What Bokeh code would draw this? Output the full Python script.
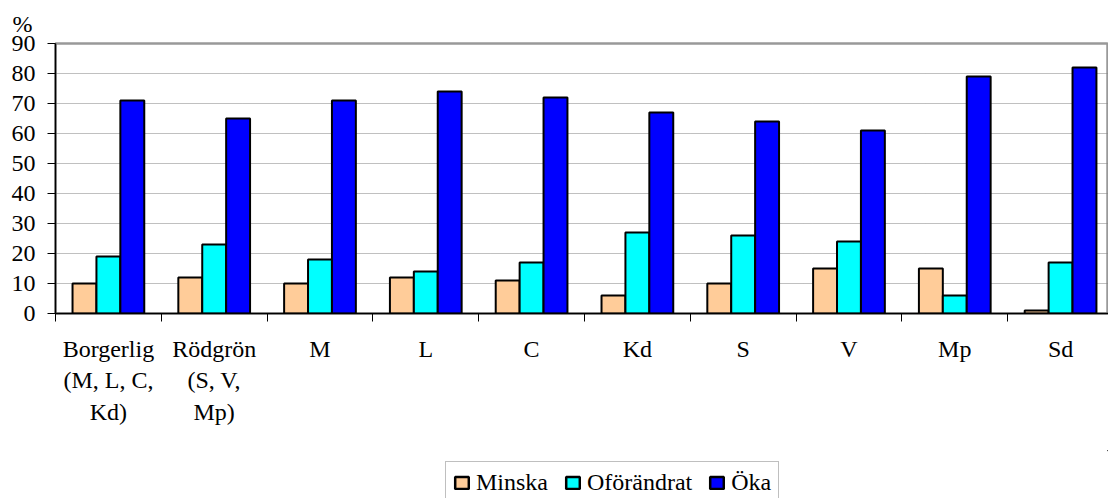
import numpy as np
from bokeh.plotting import figure
from bokeh.layouts import column
from bokeh.models import (Range1d, FixedTicker, Legend, LegendItem, Title,
                          ColumnDataSource)
from bokeh.embed import file_html
from bokeh.resources import INLINE

categories = ["Borgerlig\n(M, L, C,\nKd)", "Rödgrön\n(S, V,\nMp)", "M", "L", "C",
              "Kd", "S", "V", "Mp", "Sd"]
series_names = ["Minska", "Oförändrat", "Öka"]
minska = [10, 12, 10, 12, 11, 6, 10, 15, 15, 1]
oforandrat = [19, 23, 18, 14, 17, 27, 26, 24, 6, 17]
oka = [71, 65, 71, 74, 72, 67, 64, 61, 79, 82]
colors = ["#FFCC99", "#00FFFF", "#0000FF"]
y_ticks = list(range(0, 100, 10))

FONT = "Liberation Serif"
FS = "24px"

p = figure(width=1108, height=450, output_backend="svg", toolbar_location=None,
           x_range=Range1d(0, 9.953), y_range=Range1d(0, 90),
           min_border_left=55, min_border_right=0, min_border_top=43,
           min_border_bottom=137)

idx = np.arange(len(categories)) + 0.5
bw = 0.226
for k, (name, vals, col) in enumerate(zip(series_names, [minska, oforandrat, oka], colors)):
    src = ColumnDataSource(dict(x=idx + (k - 1) * bw, top=vals))
    p.vbar(x="x", top="top", width=bw, bottom=0, source=src,
           fill_color=col, line_color="black", line_width=2)

# x axis
p.xaxis.ticker = FixedTicker(ticks=list(idx), minor_ticks=list(range(0, 11)))
p.xaxis.major_label_overrides = {float(x): c for x, c in zip(idx, categories)}
p.xaxis.major_tick_out = 0
p.xaxis.major_tick_in = 0
p.xaxis.minor_tick_out = 8
p.xaxis.minor_tick_in = 0
p.xaxis.minor_tick_line_color = "black"
p.xaxis.axis_line_color = "black"
p.xaxis.axis_line_width = 1.5
p.xaxis.major_label_text_font = FONT
p.xaxis.major_label_text_font_size = FS
p.xaxis.major_label_text_color = "black"
p.xaxis.major_label_text_line_height = 1.22
p.xaxis.major_label_standoff = 14

# y axis
p.yaxis.ticker = FixedTicker(ticks=y_ticks)
p.yaxis.major_tick_out = 8
p.yaxis.major_tick_in = 0
p.yaxis.minor_tick_line_color = None
p.yaxis.axis_line_color = "black"
p.yaxis.axis_line_width = 1.5
p.yaxis.major_label_text_font = FONT
p.yaxis.major_label_text_font_size = FS
p.yaxis.major_label_text_color = "black"
p.yaxis.major_label_standoff = 12

p.xgrid.grid_line_color = None
p.ygrid.ticker = FixedTicker(ticks=y_ticks[1:-1])
p.ygrid.grid_line_color = "#808080"
p.ygrid.grid_line_dash = "1 1"
p.ygrid.grid_line_width = 1

p.outline_line_color = "#999999"
p.outline_line_width = 2.5
p.background_fill_color = "white"
p.border_fill_color = "white"

p.add_layout(Title(text="%", align="left", offset=-43, text_font=FONT,
                   text_font_size=FS, text_font_style="normal",
                   text_color="black", standoff=14), "above")

# legend strip
p2 = figure(width=1108, height=48, output_backend="svg", toolbar_location=None,
            x_range=Range1d(0, 1), y_range=Range1d(0, 1),
            x_axis_location=None, y_axis_location=None,
            min_border_left=0, min_border_right=0, min_border_top=0,
            min_border_bottom=0)
p2.grid.grid_line_color = None
p2.outline_line_color = None
legend_renderers = []
for name, col in zip(series_names, colors):
    r = p2.vbar(x=[5], top=[5], bottom=[4], width=0.1, fill_color=col,
                line_color="black", line_width=2.5)
    legend_renderers.append(r)

legend = Legend(items=[LegendItem(label=n, renderers=[r]) for n, r in zip(series_names, legend_renderers)],
                orientation="horizontal", location=(390, -6),
                label_text_font=FONT, label_text_font_size=FS,
                label_text_color="black", glyph_width=17, glyph_height=15,
                label_standoff=6, spacing=16, padding=7, margin=0,
                label_height=17,
                border_line_color="#808080", border_line_width=1.5,
                background_fill_color="white")
p2.add_layout(legend, "center")

layout = column(p, p2, spacing=0)
open("out.html", "w").write(file_html(layout, INLINE))
